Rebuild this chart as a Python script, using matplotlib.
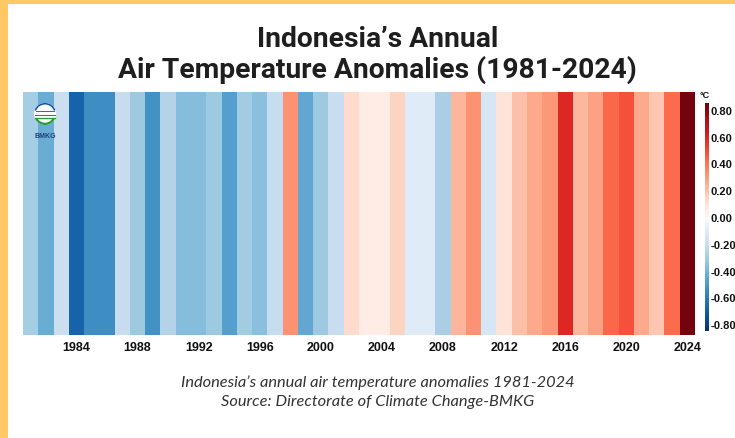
import numpy as np
import matplotlib
matplotlib.use('Agg')
from matplotlib import pyplot as plt
from matplotlib.colors import ListedColormap, Normalize
from matplotlib.patches import Rectangle, Circle, Wedge

# annual anomaly (deg C)
years = list(range(1981, 2025))
anomalies = [
    -0.30, -0.43, -0.19, -0.68, -0.54, -0.54, -0.21, -0.32, -0.53, -0.26,   # 1981-1990
    -0.37, -0.37, -0.32, -0.48, -0.31, -0.36, -0.21, 0.32, -0.45, -0.32,    # 1991-2000
    -0.20, 0.12, 0.04, 0.04, 0.14, -0.10, -0.10, -0.29, 0.23, 0.32,         # 2001-2010
    -0.14, 0.09, 0.20, 0.26, 0.31, 0.59, 0.22, 0.28, 0.43, 0.48,            # 2011-2020
    0.26, 0.18, 0.42, 0.83,                                                 # 2021-2024
]
xtick_years = list(range(1984, 2025, 4))
cbar_ticks = [-0.8, -0.6, -0.4, -0.2, 0.0, 0.2, 0.4, 0.6, 0.8]

title = "Indonesia\u2019s Annual\nAir Temperature Anomalies (1981-2024)"
caption = ("Indonesia\u2019s annual air temperature anomalies 1981-2024\n"
           "Source: Directorate of Climate Change-BMKG")

# blues for cold, reds for warm (stripes palette)
cols = np.vstack((plt.cm.Blues_r(np.linspace(0, 1, 128)),
                  plt.cm.Reds(np.linspace(0, 1, 128))))
cmap = ListedColormap(cols)
norm = Normalize(vmin=-0.85, vmax=0.85)

W, H = 735, 439
fig = plt.figure(figsize=(W / 100, H / 100), dpi=100, facecolor='#ffc766')
fig.patches.append(Rectangle((8 / W, 0), 1, 1 - 5 / H, transform=fig.transFigure,
                             facecolor='white', edgecolor='none', zorder=-10))

fig.text(0.514, 1 - 55 / H, title, ha='center', va='center', fontsize=20.3,
         fontweight='bold', family='Roboto', color='#1e1e1e', linespacing=1.12)

# stripes
ax = fig.add_axes([23 / W, 1 - 336 / H, (695 - 23) / W, (336 - 93) / H])
ax.bar(years, 1, width=1.0, color=cmap(norm(np.array(anomalies))), linewidth=0)
ax.set_xlim(1980.5, 2024.5)
ax.set_ylim(0, 1)
ax.set_yticks([])
ax.set_xticks(xtick_years)
ax.set_xticklabels([str(y) for y in xtick_years], fontsize=9, fontweight='bold',
                   family='Liberation Sans', color='#111111')
ax.tick_params(axis='x', length=0, pad=4)
for s in ax.spines.values():
    s.set_visible(False)

# colorbar
cax = fig.add_axes([705 / W, 1 - 332 / H, 4 / W, (332 - 104) / H])
sm = plt.cm.ScalarMappable(cmap=cmap, norm=norm)
cb = fig.colorbar(sm, cax=cax, ticks=cbar_ticks)
cb.outline.set_visible(False)
cb.ax.tick_params(length=0, pad=1)
cb.ax.set_yticklabels(['%.2f' % t for t in cbar_ticks], fontsize=8,
                      fontweight='bold', family='Liberation Sans', color='#111111')
fig.text(700 / W, 1 - 96 / H, '\u00b0C', fontsize=6.5, fontweight='bold',
         family='Liberation Sans', ha='left', va='center', color='#111111')

# rough BMKG logo
lx, ly = 45 / W, 1 - 115 / H
logo = fig.add_axes([lx - 13 / W, ly - 13 / H, 26 / W, 26 / H])
logo.set_xlim(-1, 1)
logo.set_ylim(-1, 1)
logo.set_aspect('equal')
logo.axis('off')
logo.add_patch(Circle((0, 0), 0.85, facecolor='white', edgecolor='none'))
logo.add_patch(Wedge((0, 0), 0.85, 20, 160, width=0.12, facecolor='#1d4f9c'))
logo.add_patch(Wedge((0, 0), 0.85, 205, 335, width=0.18, facecolor='#2e9a3e'))
logo.plot([-0.7, 0.7], [0.25, 0.25], color='#2b6cb5', lw=0.7)
logo.plot([-0.8, 0.8], [-0.05, -0.05], color='#2b6cb5', lw=0.7)
logo.plot([-0.8, 0.8], [-0.3, -0.3], color='#2e9a3e', lw=0.9)
fig.text(lx, 1 - 136 / H, 'BMKG', fontsize=5, fontweight='bold', ha='center',
         va='center', color='#1d3f7a', family='Liberation Sans')

fig.text(0.514, 1 - 392 / H, caption, ha='center', va='center', fontsize=11.8,
         style='italic', family='Lato', color='#333333', linespacing=1.4)

fig.savefig('out.png', dpi=100, facecolor=fig.get_facecolor())
